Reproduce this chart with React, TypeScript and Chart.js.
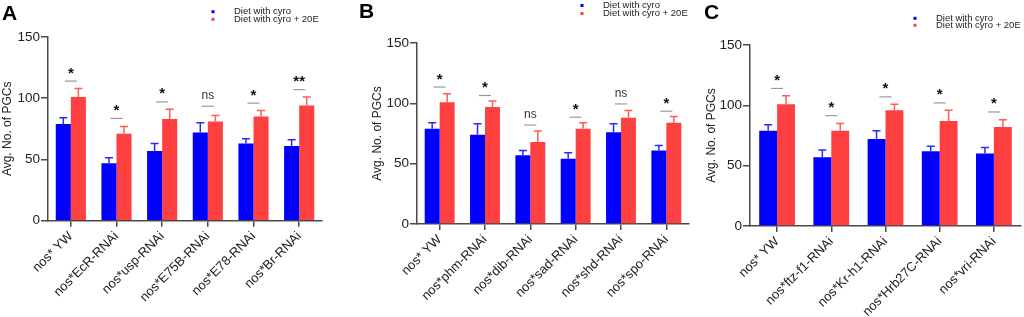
import React, { useEffect, useRef } from "react";
import { Chart, registerables } from "chart.js";
Chart.register(...registerables);

// ---------- data ----------
const seriesNames = ["Diet with cyro", "Diet with cyro + 20E"];
const yTicks = [0, 50, 100, 150];

const catsA = ["nos* YW", "nos*EcR-RNAi", "nos*usp-RNAi", "nos*E75B-RNAi", "nos*E78-RNAi", "nos*Br-RNAi"];
const cyroA = [79, 47, 57, 72, 63, 61];
const cyroErrA = [5, 4.5, 6, 8, 4, 5];
const e20A = [101, 71, 83, 81, 85, 94];
const e20ErrA = [7, 6, 8, 5, 5, 7];
const sigLineA = [114, 83.5, 97, 93.5, 96, 107];
const sigA = ["*", "*", "*", "ns", "*", "**"];

const catsB = ["nos* YW", "nos*phm-RNAi", "nos*dib-RNAi", "nos*sad-RNAi", "nos*shd-RNAi", "nos*spo-RNAi"];
const cyroB = [79, 74, 57, 54, 76, 61];
const cyroErrB = [5, 9, 4, 5, 7, 4];
const e20B = [101, 97, 68, 79, 88, 84];
const e20ErrB = [7, 5, 9, 5, 6, 5];
const sigLineB = [113.5, 106.5, 82, 88.5, 99.5, 93.5];
const sigB = ["*", "*", "ns", "*", "ns", "*"];

const catsC = ["nos* YW", "nos*ftz-f1-RNAi", "nos*Kr-h1-RNAi", "nos*Hrb27C-RNAi", "nos*vri-RNAi"];
const cyroC = [79, 57, 72, 62, 60];
const cyroErrC = [5, 6, 7, 4, 5];
const e20C = [101, 79, 96, 87, 82];
const e20ErrC = [7, 6, 5, 9, 6];
const sigLineC = [114, 91.5, 107, 102, 94.5];
const sigC = ["*", "*", "*", "*", "*"];

// ---------- styles ----------
const FONT = "'Liberation Sans', Arial, Helvetica, sans-serif";
const BLUE = "#0000ff";
const RED = "#ff4040";
const ERR_COLORS = ["#2a2aff", "#ff5c5c"];
const AXIS = "#4a4a4a";

type PanelCfg = {
  letter: string;
  cats: string[];
  cyro: number[];
  cyroErr: number[];
  e20: number[];
  e20Err: number[];
  sigLine: number[];
  sig: string[];
  left: number;
  width: number;
  axisX: number;
  rightX: number;
  topY: number;
  zeroY: number;
  padLeft: number;
  legendX: number;
  legendRows: number[];
  letterX: number;
  letterBase: number;
};

const H = 317;

const annotPlugin = {
  id: "annot",
  afterDatasetsDraw(chart: any, _args: any, opts: any) {
    const p: PanelCfg = opts.panel;
    const { ctx } = chart;
    const x = chart.scales.x;
    const y = chart.scales.y;
    const errs = [p.cyroErr, p.e20Err];
    ctx.save();
    chart.data.datasets.forEach((ds: any, di: number) => {
      const meta = chart.getDatasetMeta(di);
      meta.data.forEach((bar: any, i: number) => {
        const v = ds.data[i];
        const top = y.getPixelForValue(v + errs[di][i]);
        ctx.strokeStyle = ERR_COLORS[di];
        ctx.lineWidth = 1.5;
        ctx.beginPath();
        ctx.moveTo(bar.x, bar.y);
        ctx.lineTo(bar.x, top);
        ctx.moveTo(bar.x - 4, top);
        ctx.lineTo(bar.x + 4, top);
        ctx.stroke();
      });
    });
    // significance
    p.sigLine.forEach((v, i) => {
      const cx = x.getPixelForValue(i);
      const ly = y.getPixelForValue(v);
      ctx.strokeStyle = "#9a9a9a";
      ctx.lineWidth = 1.2;
      ctx.beginPath();
      ctx.moveTo(cx - 6, ly);
      ctx.lineTo(cx + 6, ly);
      ctx.stroke();
      const label = p.sig[i];
      const isNs = label === "ns";
      ctx.font = isNs ? `12px ${FONT}` : `bold 15px ${FONT}`;
      ctx.fillStyle = isNs ? "#333" : "#111";
      ctx.textAlign = "center";
      ctx.textBaseline = "alphabetic";
      const m = ctx.measureText(label);
      const centerY = ly - 10.5;
      const base = centerY + (m.actualBoundingBoxAscent - m.actualBoundingBoxDescent) / 2;
      ctx.fillText(label, cx, base);
    });
    // legend
    ctx.font = `9.5px ${FONT}`;
    ctx.textAlign = "left";
    ctx.textBaseline = "middle";
    seriesNames.forEach((name, i) => {
      const ry = p.legendRows[i];
      ctx.fillStyle = i === 0 ? BLUE : RED;
      ctx.fillRect(p.legendX - 1.5, ry - 1.5, 3, 3);
      ctx.fillStyle = "#222";
      ctx.fillText(name, p.legendX + 21, ry);
    });
    // panel letter
    ctx.font = `bold 21px ${FONT}`;
    ctx.fillStyle = "#000";
    ctx.textBaseline = "alphabetic";
    ctx.fillText(p.letter, p.letterX, p.letterBase);
    ctx.restore();
  },
};

function Panel({ p }: { p: PanelCfg }) {
  const ref = useRef<HTMLCanvasElement>(null);
  useEffect(() => {
    if (!ref.current) return;
    const chart = new Chart(ref.current, {
      type: "bar",
      data: {
        labels: p.cats,
        datasets: [
          { label: seriesNames[0], data: p.cyro, backgroundColor: BLUE, borderWidth: 0 },
          { label: seriesNames[1], data: p.e20, backgroundColor: RED, borderWidth: 0 },
        ],
      },
      options: {
        responsive: false,
        animation: false,
        devicePixelRatio: 1,
        datasets: { bar: { categoryPercentage: 0.66, barPercentage: 1 } },
        layout: { padding: { left: p.padLeft, right: p.width - p.rightX, top: p.topY, bottom: 0 } },
        plugins: {
          legend: { display: false },
          tooltip: { enabled: false },
          annot: { panel: p },
        } as any,
        scales: {
          x: {
            offset: true,
            grid: { offset: false, drawOnChartArea: false, drawTicks: true, tickLength: 6, color: AXIS, lineWidth: 1.5 },
            border: { color: AXIS, width: 1.5 },
            ticks: {
              autoSkip: false,
              minRotation: 45,
              maxRotation: 45,
              padding: 2,
              color: "#222",
              font: { family: FONT, size: 13 },
            },
            afterFit: (s: any) => {
              s.height = H - p.zeroY;
            },
          },
          y: {
            min: 0,
            max: 150,
            afterBuildTicks: (s: any) => {
              s.ticks = yTicks.map((v) => ({ value: v }));
            },
            grid: { drawOnChartArea: false, drawTicks: true, tickLength: 7, color: AXIS, lineWidth: 1.5 },
            border: { color: AXIS, width: 1.5 },
            ticks: { padding: 1, color: "#222", font: { family: FONT, size: 13.5 } },
            title: {
              display: true,
              text: "Avg. No. of PGCs",
              color: "#222",
              font: { family: FONT, size: 12 },
              padding: { top: 0, bottom: 0 },
            },
            afterFit: (s: any) => {
              s.width = p.axisX - p.padLeft;
            },
          },
        },
      },
      plugins: [annotPlugin],
    } as any);
    return () => chart.destroy();
  }, [p]);
  return (
    <canvas
      ref={ref}
      width={p.width}
      height={H}
      style={{ position: "absolute", left: p.left, top: 0, width: p.width, height: H }}
    />
  );
}

const panels: PanelCfg[] = [
  {
    letter: "A", cats: catsA, cyro: cyroA, cyroErr: cyroErrA, e20: e20A, e20Err: e20ErrA, sigLine: sigLineA, sig: sigA,
    left: 0, width: 340, axisX: 48, rightX: 322, topY: 37, zeroY: 220.7, padLeft: 0,
    legendX: 213, legendRows: [11.7, 19.3], letterX: 2, letterBase: 20,
  },
  {
    letter: "B", cats: catsB, cyro: cyroB, cyroErr: cyroErrB, e20: e20B, e20Err: e20ErrB, sigLine: sigLineB, sig: sigB,
    left: 340, width: 360, axisX: 77, rightX: 349, topY: 43, zeroY: 224, padLeft: 30,
    legendX: 242, legendRows: [5.5, 13.5], letterX: 19, letterBase: 18,
  },
  {
    letter: "C", cats: catsC, cyro: cyroC, cyroErr: cyroErrC, e20: e20C, e20Err: e20ErrC, sigLine: sigLineC, sig: sigC,
    left: 680, width: 344, axisX: 70, rightX: 341, topY: 45, zeroY: 226, padLeft: 24,
    legendX: 235, legendRows: [18.3, 25.3], letterX: 24, letterBase: 19,
  },
];

export default function App() {
  return (
    <div style={{ position: "fixed", left: 0, top: 0, width: 1024, height: H, background: "#fff", overflow: "hidden" }}>
      {panels.map((p) => (
        <Panel key={p.letter} p={p} />
      ))}
    </div>
  );
}
